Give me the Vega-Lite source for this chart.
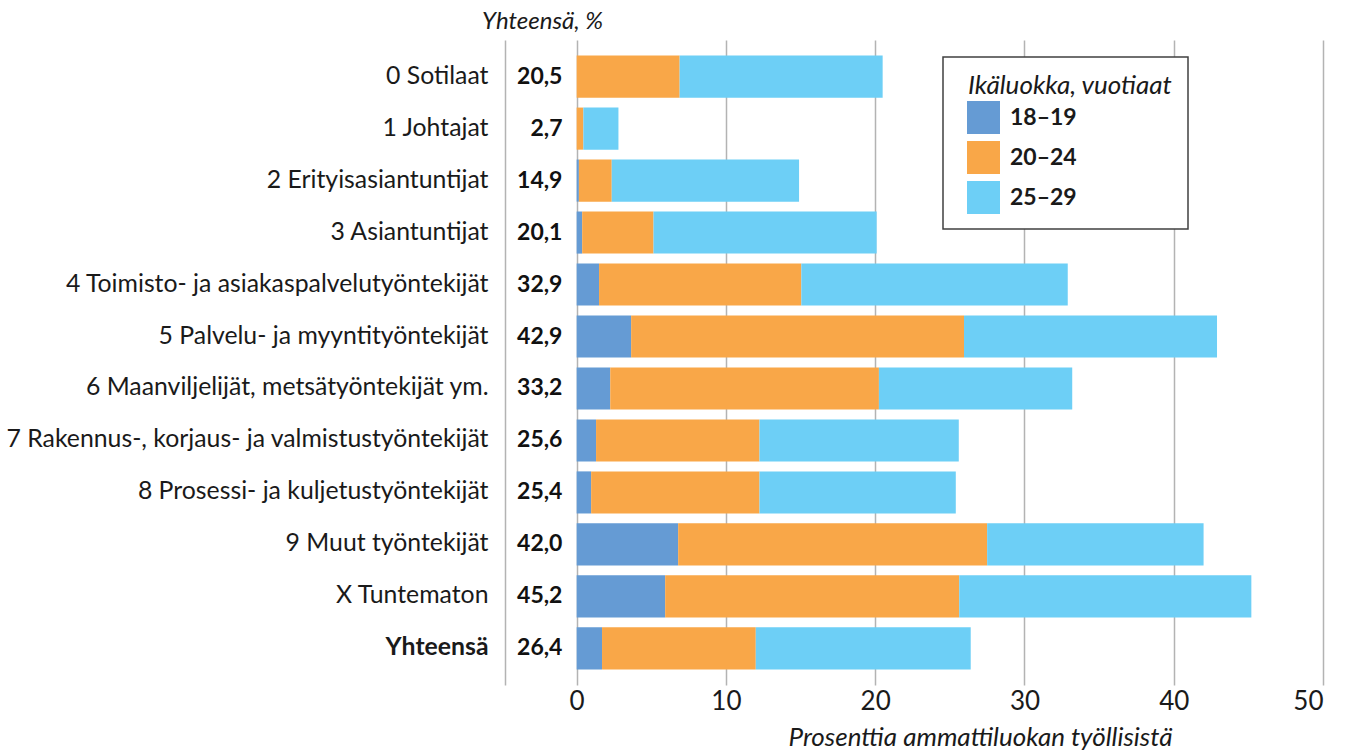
{
  "$schema": "https://vega.github.io/schema/vega-lite/v6.json",
  "autosize": {"type": "none"},
  "padding": {"left": 505, "top": 40, "right": 26, "bottom": 68},
  "width": 818,
  "height": 645,
  "background": "white",
  "title": {
    "text": "Yhteensä, %",
    "anchor": "start",
    "frame": "group",
    "dx": -23,
    "dy": 25,
    "offset": 12,
    "baseline": "alphabetic",
    "font": "Lato",
    "fontSize": 24,
    "fontStyle": "italic",
    "fontWeight": "normal",
    "color": "#1a1a1a"
  },
  "datasets": {
    "bars": [
      {"occ": "0 Sotilaat", "age": "18–19", "value": 0},
      {"occ": "0 Sotilaat", "age": "20–24", "value": 6.9},
      {"occ": "0 Sotilaat", "age": "25–29", "value": 13.6},
      {"occ": "1 Johtajat", "age": "18–19", "value": 0},
      {"occ": "1 Johtajat", "age": "20–24", "value": 0.45},
      {"occ": "1 Johtajat", "age": "25–29", "value": 2.35},
      {"occ": "2 Erityisasiantuntijat", "age": "18–19", "value": 0.15},
      {"occ": "2 Erityisasiantuntijat", "age": "20–24", "value": 2.2},
      {"occ": "2 Erityisasiantuntijat", "age": "25–29", "value": 12.55},
      {"occ": "3 Asiantuntijat", "age": "18–19", "value": 0.37},
      {"occ": "3 Asiantuntijat", "age": "20–24", "value": 4.78},
      {"occ": "3 Asiantuntijat", "age": "25–29", "value": 14.95},
      {"occ": "4 Toimisto- ja asiakaspalvelutyöntekijät", "age": "18–19", "value": 1.5},
      {"occ": "4 Toimisto- ja asiakaspalvelutyöntekijät", "age": "20–24", "value": 13.55},
      {"occ": "4 Toimisto- ja asiakaspalvelutyöntekijät", "age": "25–29", "value": 17.85},
      {"occ": "5 Palvelu- ja myyntityöntekijät", "age": "18–19", "value": 3.65},
      {"occ": "5 Palvelu- ja myyntityöntekijät", "age": "20–24", "value": 22.3},
      {"occ": "5 Palvelu- ja myyntityöntekijät", "age": "25–29", "value": 16.95},
      {"occ": "6 Maanviljelijät, metsätyöntekijät ym.", "age": "18–19", "value": 2.25},
      {"occ": "6 Maanviljelijät, metsätyöntekijät ym.", "age": "20–24", "value": 18.0},
      {"occ": "6 Maanviljelijät, metsätyöntekijät ym.", "age": "25–29", "value": 12.95},
      {"occ": "7 Rakennus-, korjaus- ja valmistustyöntekijät", "age": "18–19", "value": 1.3},
      {"occ": "7 Rakennus-, korjaus- ja valmistustyöntekijät", "age": "20–24", "value": 10.95},
      {"occ": "7 Rakennus-, korjaus- ja valmistustyöntekijät", "age": "25–29", "value": 13.35},
      {"occ": "8 Prosessi- ja kuljetustyöntekijät", "age": "18–19", "value": 0.97},
      {"occ": "8 Prosessi- ja kuljetustyöntekijät", "age": "20–24", "value": 11.28},
      {"occ": "8 Prosessi- ja kuljetustyöntekijät", "age": "25–29", "value": 13.15},
      {"occ": "9 Muut työntekijät", "age": "18–19", "value": 6.8},
      {"occ": "9 Muut työntekijät", "age": "20–24", "value": 20.7},
      {"occ": "9 Muut työntekijät", "age": "25–29", "value": 14.5},
      {"occ": "X Tuntematon", "age": "18–19", "value": 5.93},
      {"occ": "X Tuntematon", "age": "20–24", "value": 19.7},
      {"occ": "X Tuntematon", "age": "25–29", "value": 19.57},
      {"occ": "Yhteensä", "age": "18–19", "value": 1.7},
      {"occ": "Yhteensä", "age": "20–24", "value": 10.3},
      {"occ": "Yhteensä", "age": "25–29", "value": 14.4}
    ],
    "totals": [
      {"occ": "0 Sotilaat", "total": 20.5},
      {"occ": "1 Johtajat", "total": 2.7},
      {"occ": "2 Erityisasiantuntijat", "total": 14.9},
      {"occ": "3 Asiantuntijat", "total": 20.1},
      {"occ": "4 Toimisto- ja asiakaspalvelutyöntekijät", "total": 32.9},
      {"occ": "5 Palvelu- ja myyntityöntekijät", "total": 42.9},
      {"occ": "6 Maanviljelijät, metsätyöntekijät ym.", "total": 33.2},
      {"occ": "7 Rakennus-, korjaus- ja valmistustyöntekijät", "total": 25.6},
      {"occ": "8 Prosessi- ja kuljetustyöntekijät", "total": 25.4},
      {"occ": "9 Muut työntekijät", "total": 42.0},
      {"occ": "X Tuntematon", "total": 45.2},
      {"occ": "Yhteensä", "total": 26.4}
    ]
  },
  "encoding": {
    "y": {
      "field": "occ",
      "type": "nominal",
      "sort": null,
      "scale": {"paddingInner": 0.19, "paddingOuter": 0.3},
      "axis": {
        "title": null,
        "ticks": false,
        "domain": true,
        "domainColor": "#b3b3b3",
        "domainWidth": 1.5,
        "labelFont": "Lato",
        "labelFontSize": 24.8,
        "labelColor": "#1a1a1a",
        "labelPadding": 17,
        "labelLimit": 0,
        "labelFontWeight": {"condition": {"test": "datum.value === 'Yhteensä'", "value": "bold"}, "value": "normal"}
      }
    }
  },
  "layer": [
    {
      "data": {"name": "bars"},
      "mark": {"type": "bar"},
      "encoding": {
        "x": {
          "field": "value",
          "type": "quantitative",
          "stack": "zero",
          "scale": {"domain": [-4.8, 50], "nice": false, "zero": false},
          "axis": {
            "values": [0, 10, 20, 30, 40, 50],
            "grid": true,
            "gridColor": "#b3b3b3",
            "gridWidth": 1.5,
            "domain": false,
            "ticks": false,
            "labelFont": "Lato",
            "labelFontSize": 26,
            "labelColor": "#1a1a1a",
            "labelPadding": 3,
            "title": "Prosenttia ammattiluokan työllisistä",
            "titleFont": "Lato",
            "titleFontSize": 26,
            "titleFontStyle": "italic",
            "titleFontWeight": "normal",
            "titleColor": "#1a1a1a",
            "titleX": 475,
            "titleY": 60,
            "titleAlign": "center",
            "titleBaseline": "alphabetic"
          }
        },
        "color": {
          "field": "age",
          "type": "nominal",
          "scale": {"domain": ["18–19", "20–24", "25–29"], "range": ["#659BD4", "#F9A748", "#6DCFF6"]},
          "legend": {
            "title": "Ikäluokka, vuotiaat",
            "orient": "none",
            "legendX": 438,
            "legendY": 17,
            "fillColor": "white",
            "strokeColor": "#404040",
            "padding": 15,
            "titleFont": "Lato",
            "titleFontSize": 26,
            "titleFontStyle": "italic",
            "titleFontWeight": "normal",
            "titleColor": "#1a1a1a",
            "titleLimit": 0,
            "titlePadding": 3,
            "labelFont": "Lato",
            "labelFontSize": 23,
            "labelFontWeight": "bold",
            "labelColor": "#1a1a1a",
            "labelOffset": 10,
            "labelLimit": 0,
            "symbolType": "square",
            "symbolSize": 1089,
            "symbolStrokeWidth": 0,
            "symbolOpacity": 1,
            "symbolOffset": 9,
            "rowPadding": 7,
            "encode": {
              "legend": {"update": {"strokeWidth": {"value": 1.5}}},
              "title": {"update": {"dx": {"value": 10}, "dy": {"value": 1}}}
            }
          }
        }
      }
    },
    {
      "mark": {"type": "rule", "color": "#111111", "strokeWidth": 2},
      "encoding": {"x": {"datum": 0, "type": "quantitative"}}
    },
    {
      "data": {"name": "totals"},
      "mark": {"type": "text", "align": "right", "baseline": "middle", "font": "Lato", "fontSize": 23, "fontWeight": "bold", "color": "#111111"},
      "encoding": {
        "x": {"datum": -0.95, "type": "quantitative"},
        "text": {"field": "total", "type": "quantitative", "format": ".1f"}
      }
    }
  ],
  "config": {
    "font": "Lato",
    "view": {"stroke": null},
    "locale": {"number": {"decimal": ",", "thousands": " ", "grouping": [3], "currency": ["", " €"]}}
  }
}
